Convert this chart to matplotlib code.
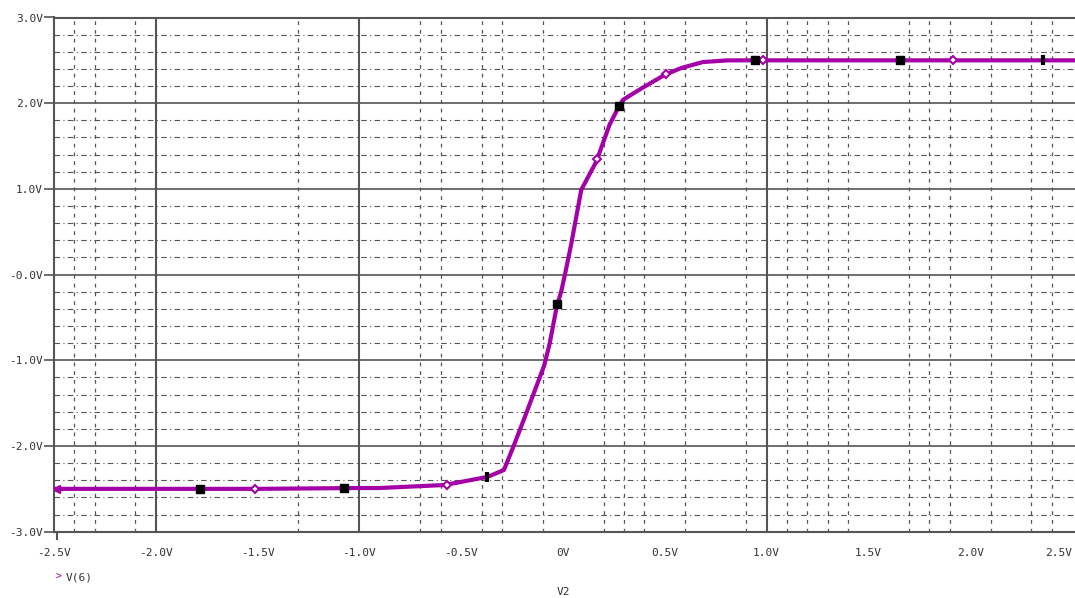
import numpy as np
import matplotlib.pyplot as plt

# trace V(6) vs V2
v2 = [-2.5, -2.0, -1.5, -1.0, -0.9, -0.58, -0.37, -0.29, -0.244, -0.187, -0.138,
      -0.092, -0.065, -0.032, -0.007, 0.014, 0.04, 0.09, 0.164, 0.229, 0.27,
      0.295, 0.384, 0.499, 0.58, 0.687, 0.81, 0.94, 1.5, 2.0, 2.53]
v6 = [-2.50, -2.50, -2.50, -2.49, -2.49, -2.455, -2.36, -2.28, -2.01, -1.66, -1.35,
      -1.06, -0.80, -0.39, -0.18, 0.05, 0.35, 0.99, 1.32, 1.75, 1.94,
      2.04, 2.17, 2.33, 2.41, 2.48, 2.50, 2.50, 2.50, 2.50, 2.50]

# symbols sitting on the trace
square_x = [-1.785, -1.075, -0.027, 0.277, 0.943, 1.653]
bar_x = [-0.375, 2.358]
diamond_x = [-1.511, -0.571, 0.169, 0.507, 0.982, 1.917]

xtick_vals = [-2.5, -2.0, -1.5, -1.0, -0.5, 0.0, 0.5, 1.0, 1.5, 2.0, 2.5]
xtick_text = ["-2.5V", "-2.0V", "-1.5V", "-1.0V", "-0.5V", "0V", "0.5V",
              "1.0V", "1.5V", "2.0V", "2.5V"]
ytick_vals = [3.0, 2.0, 1.0, 0.0, -1.0, -2.0, -3.0]
ytick_text = ["3.0V", "2.0V", "1.0V", "-0.0V", "-1.0V", "-2.0V", "-3.0V"]

# odd vertical grid of the original
x_solid = [-2.0, -1.0, 1.0]
x_dashed = [-2.4, -2.3, -2.1, -1.3, -0.7, -0.6, -0.4, -0.3, -0.1, 0.2, 0.3, 0.4,
            0.6, 0.9, 1.1, 1.2, 1.3, 1.4, 1.7, 1.8, 1.9, 2.1, 2.3, 2.4]

trace_col = '#a400a8'
grid_col = '#555555'
txt_col = '#333333'
font = 'DejaVu Sans Mono'

fig = plt.figure(figsize=(10.75, 5.98), dpi=100)
ax = fig.add_axes([54/1075, 66.3/598, 1 - 54/1075, 514.2/598])

ax.set_xlim(-2.485, 2.515)
ax.set_ylim(-3.0, 3.0)

# grid
for y in np.arange(-3.0, 3.01, 0.2):
    if abs(y - round(y)) < 1e-6:
        ax.axhline(y, color=grid_col, lw=1.2, zorder=1)
    else:
        ax.axhline(y, color=grid_col, lw=0.8, dashes=(5, 3, 1, 3), zorder=1)
for x in x_solid:
    ax.axvline(x, color=grid_col, lw=1.5, zorder=1)
for x in x_dashed:
    ax.axvline(x, color=grid_col, lw=0.9, dashes=(3, 4), zorder=1)

# trace
ax.plot(v2, v6, color=trace_col, lw=3.0, zorder=3, solid_capstyle='butt')
ax.plot([v2[0] + 0.01], [v6[0]], marker='<', color=trace_col, ms=6, zorder=4)
ax.plot(diamond_x, np.interp(diamond_x, v2, v6), ls='none', marker='D', ms=4.5,
        mfc='white', mec=trace_col, mew=1.5, zorder=4)
ax.plot(square_x, np.interp(square_x, v2, v6), ls='none', marker='s', ms=6,
        color='black', zorder=5)
ax.plot(bar_x, np.interp(bar_x, v2, v6), ls='none', marker='|', ms=7, mew=3,
        color='black', zorder=5)

# axes frame
for s in ['left', 'top', 'bottom']:
    ax.spines[s].set_color(grid_col)
    ax.spines[s].set_linewidth(1.5)
ax.spines['right'].set_visible(False)

ax.set_yticks(ytick_vals)
ax.set_yticklabels(ytick_text)
ax.set_xticks(xtick_vals)
ax.set_xticklabels(xtick_text)
ax.set_xticks([-2.485] + x_solid, minor=True)
ax.tick_params(axis='x', which='major', length=0, pad=12)
ax.tick_params(axis='x', which='minor', length=6, width=1.5, color=grid_col)
ax.tick_params(axis='y', length=7, width=1.2, color=grid_col, pad=1)
for lab in ax.get_xticklabels() + ax.get_yticklabels():
    lab.set_fontfamily(font)
    lab.set_fontsize(8)
    lab.set_color(txt_col)
ax.get_xticklabels()[-1].set_horizontalalignment('right')
ax.get_xticklabels()[0].set_horizontalalignment('center')

# legend and axis title
fig.text(56/1075, 1 - 577/598, '>', color=trace_col, fontsize=7, family=font,
         va='center')
fig.text(66/1075, 1 - 577/598, 'V(6)', color=txt_col, fontsize=8, family=font,
         va='center')
fig.text(563/1075, 1 - 592/598, 'V2', color=txt_col, fontsize=8, family=font,
         va='center', ha='center')

fig.savefig('out.png', dpi=100)
